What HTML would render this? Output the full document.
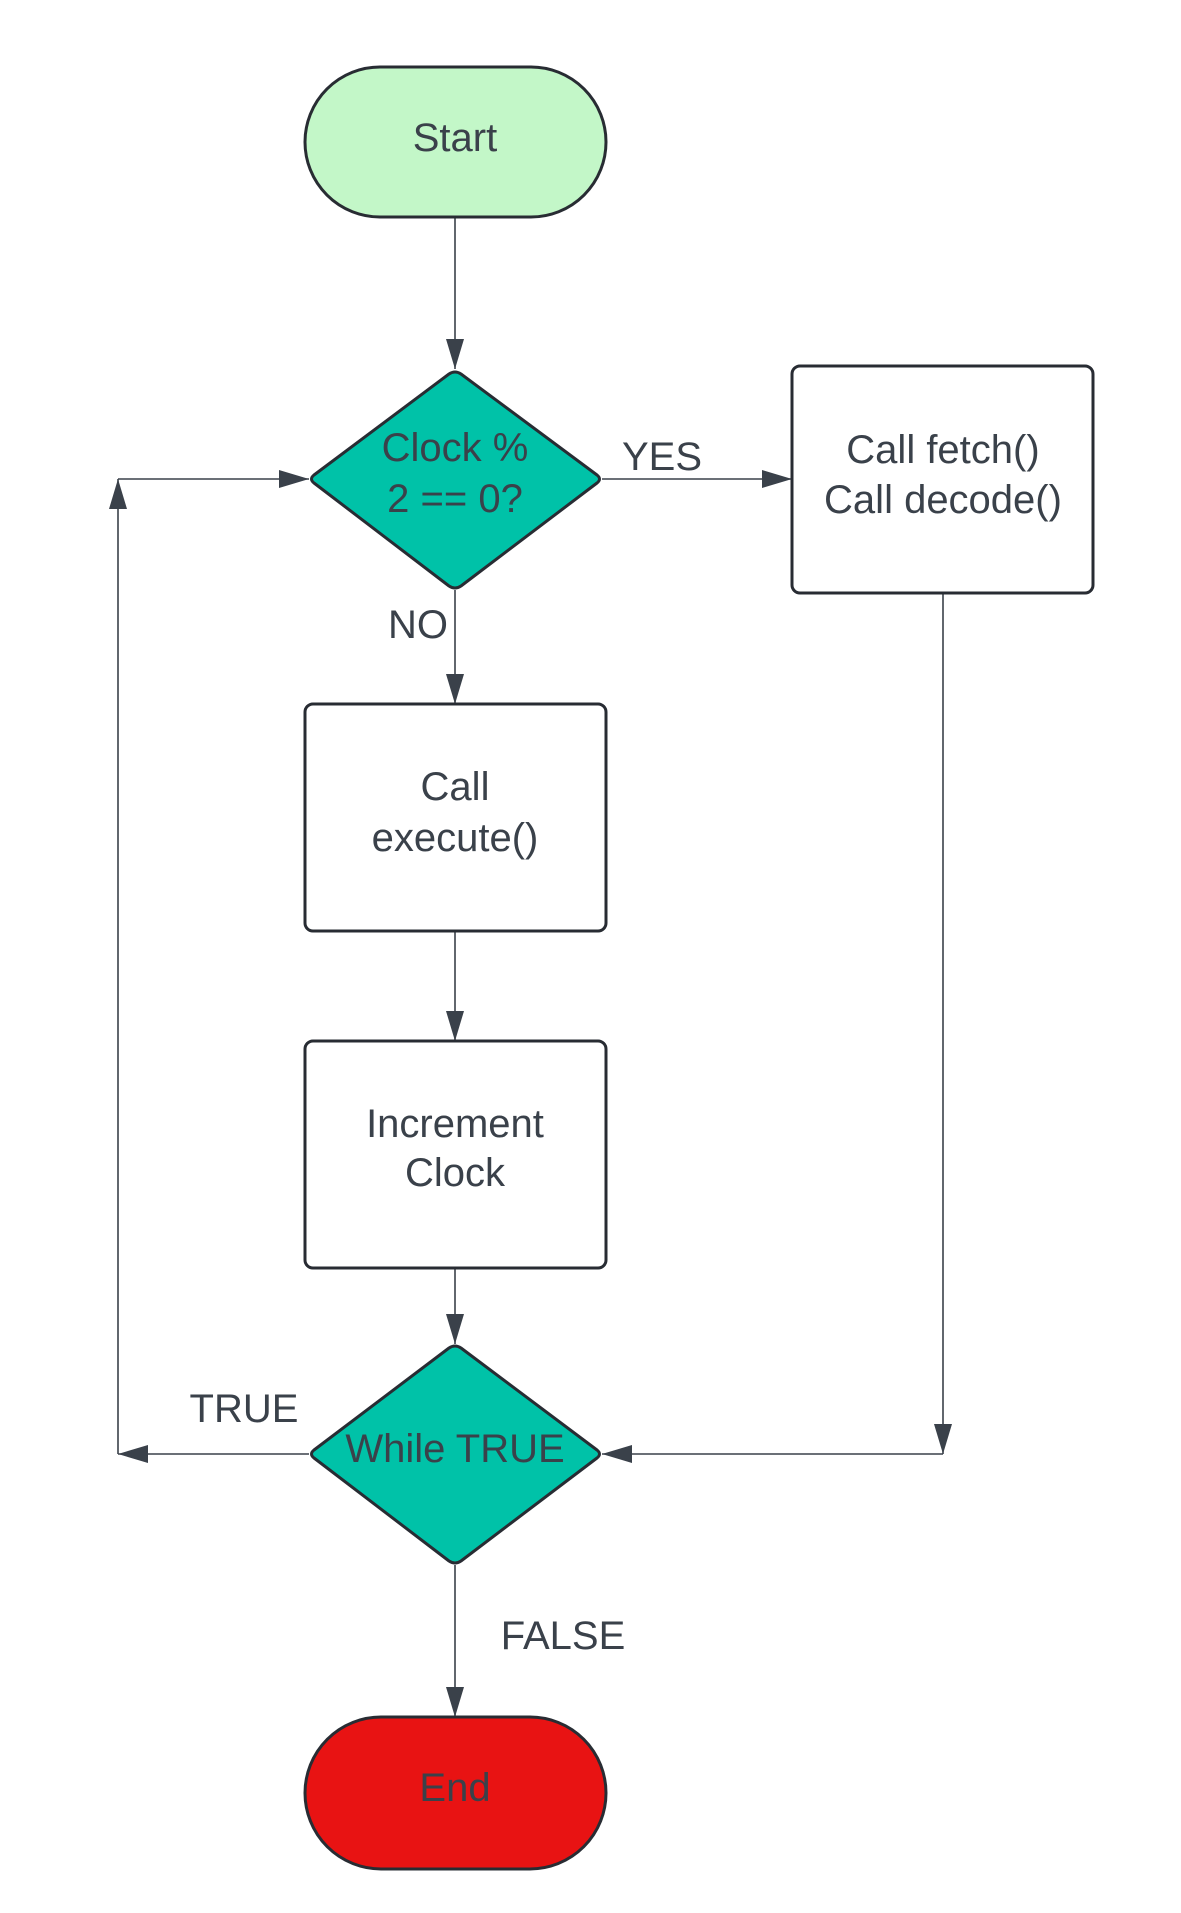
<!DOCTYPE html>
<html><head><meta charset="utf-8"><style>html,body{margin:0;padding:0;background:#fff}svg{display:block}</style></head>
<body>
<svg width="1181" height="1913" viewBox="0 0 1181 1913" xmlns="http://www.w3.org/2000/svg">
<defs>
<marker id="a" markerWidth="30" markerHeight="18" refX="30" refY="9" orient="auto" markerUnits="userSpaceOnUse">
<path d="M0,0 L30,9 L0,18 Z" fill="#3a414a"/></marker>
</defs>
<g stroke="#3a414a" stroke-width="1.6" fill="none">
<line x1="455" y1="217" x2="455" y2="369" marker-end="url(#a)"/>
<line x1="602" y1="479" x2="792" y2="479" marker-end="url(#a)"/>
<line x1="455" y1="590" x2="455" y2="704" marker-end="url(#a)"/>
<line x1="455" y1="931" x2="455" y2="1041" marker-end="url(#a)"/>
<line x1="455" y1="1268" x2="455" y2="1344" marker-end="url(#a)"/>
<line x1="455" y1="1565" x2="455" y2="1717" marker-end="url(#a)"/>
<line x1="309" y1="1454" x2="118" y2="1454" marker-end="url(#a)"/>
<line x1="118" y1="1454" x2="118" y2="479" marker-end="url(#a)"/>
<line x1="118" y1="479" x2="309" y2="479" marker-end="url(#a)"/>
<line x1="943" y1="593" x2="943" y2="1454" marker-end="url(#a)"/>
<line x1="943" y1="1454" x2="602" y2="1454" marker-end="url(#a)"/>
</g>
<g stroke="#282c33" stroke-width="3" stroke-linejoin="round">
<rect x="305" y="67" width="301" height="150" rx="75" fill="#c3f7c8"/>
<path d="M449,374 Q455,370 461,374 L597,475 Q602,479 597,483 L461,586 Q455,590 449,586 L314,483 Q309,479 314,475 Z" fill="#00c2a8"/>
<rect x="792" y="366" width="301" height="227" rx="8" fill="#fff"/>
<rect x="305" y="704" width="301" height="227" rx="8" fill="#fff"/>
<rect x="305" y="1041" width="301" height="227" rx="8" fill="#fff"/>
<path d="M449,1348 Q455,1344 461,1348 L597,1450 Q602,1454 597,1458 L461,1561 Q455,1565 449,1561 L314,1458 Q309,1454 314,1450 Z" fill="#00c2a8"/>
<rect x="305" y="1717" width="301" height="152" rx="76" fill="#e81313"/>
</g>
<g font-family="Liberation Sans, sans-serif" font-size="40" fill="#3a414a" text-anchor="middle">
<text x="455" y="151">Start</text>
<text x="455" y="461">Clock %</text>
<text x="455" y="512">2 == 0?</text>
<text x="943" y="463">Call fetch()</text>
<text x="943" y="513">Call decode()</text>
<text x="455" y="800">Call</text>
<text x="455" y="851">execute()</text>
<text x="455" y="1137">Increment</text>
<text x="455" y="1186">Clock</text>
<text x="455" y="1462">While TRUE</text>
<text x="455" y="1801">End</text>
<text x="662" y="470">YES</text>
<text x="418" y="638">NO</text>
<text x="244" y="1422">TRUE</text>
<text x="563" y="1649">FALSE</text>
</g>
</svg>
</body></html>
